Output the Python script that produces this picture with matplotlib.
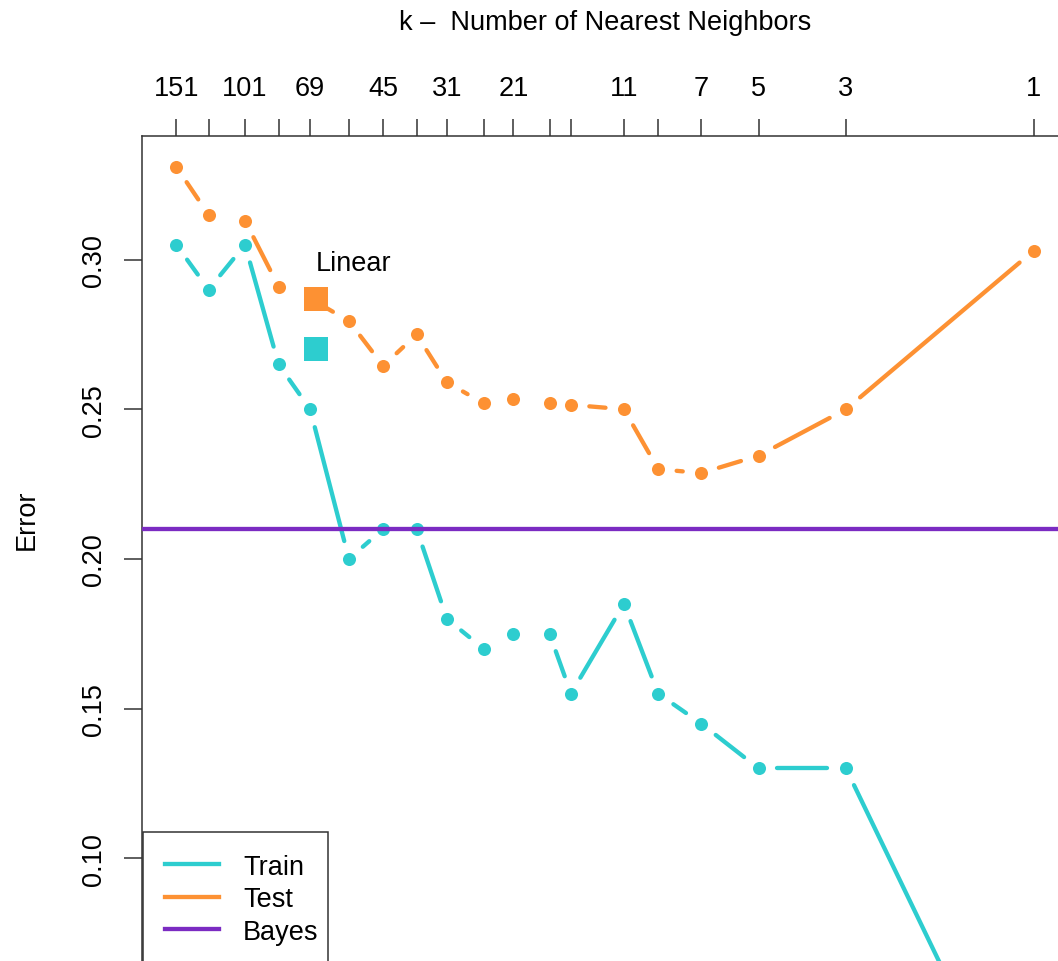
import numpy as np
import matplotlib.pyplot as plt

plt.rcParams['font.family'] = ['Liberation Sans', 'DejaVu Sans']

# k-NN on the mixture data: N = 200 training points
N = 200
k_values = [151, 125, 101, 83, 69, 55, 45, 37, 31, 25, 21, 17, 15, 11, 9, 7, 5, 3, 1]
train_err = [0.305, 0.290, 0.305, 0.265, 0.250, 0.200, 0.210, 0.210, 0.180, 0.170,
             0.175, 0.175, 0.155, 0.185, 0.155, 0.145, 0.130, 0.130, 0.000]
test_err = [0.331, 0.315, 0.313, 0.291, 0.287, 0.2795, 0.2645, 0.275, 0.259, 0.252,
            0.2535, 0.252, 0.2515, 0.250, 0.230, 0.2287, 0.2345, 0.250, 0.303]
k_labels = [151, 101, 69, 45, 31, 21, 11, 7, 5, 3, 1]
y_ticks = [0.10, 0.15, 0.20, 0.25, 0.30]

linear_df = 3
linear_train = 0.270
linear_test = 0.287
bayes_err = 0.210

col_train = '#2dcdcf'
col_test = '#fd9133'
col_bayes = '#7b2bc2'

W, H = 1058, 962
fig = plt.figure(figsize=(W / 100, H / 100), dpi=100)

# axes run off the right and bottom edges of the figure
ax = fig.add_axes([142 / W, 1 - 1199 / H, (1068 - 142) / W, (1199 - 137) / H])

dof = np.log(N / np.array(k_values, dtype=float))
span = dof.max() - dof.min()
ax.set_xlim(dof.min() - 0.04 * span, dof.max() + 0.04 * span)
ax.set_ylim(-0.0135, 0.3413)


def gapped_line(ax, x, y, gap, **kw):
    # type="b" style: each segment stops short of the points by `gap` pixels
    pts = ax.transData.transform(np.column_stack([x, y]))
    inv = ax.transData.inverted()
    for p0, p1 in zip(pts[:-1], pts[1:]):
        d = p1 - p0
        length = np.hypot(*d)
        if length <= 2 * gap:
            continue
        u = d / length
        seg = inv.transform(np.vstack([p0 + u * gap, p1 - u * gap]))
        ax.plot(seg[:, 0], seg[:, 1], solid_capstyle='round', **kw)


gapped_line(ax, dof, train_err, 18.5, color=col_train, lw=3.1)
gapped_line(ax, dof, test_err, 18.5, color=col_test, lw=3.1)
ax.plot(dof, train_err, 'o', color=col_train, ms=9.4, mew=0)
ax.plot(dof, test_err, 'o', color=col_test, ms=9.4, mew=0)

lx = np.log(linear_df)
ax.plot([lx], [linear_test], 's', color=col_test, ms=17, mew=0, zorder=5)
ax.plot([lx], [linear_train], 's', color=col_train, ms=17, mew=0, zorder=5)
ax.text(lx, 0.2988, 'Linear', ha='left', va='center', fontsize=19.5)

ax.axhline(bayes_err, color=col_bayes, lw=3.1, zorder=6)

# legend handles
ax.plot([], [], color=col_train, lw=3.1, label='Train')
ax.plot([], [], color=col_test, lw=3.1, label='Test')
ax.plot([], [], color=col_bayes, lw=3.1, label='Bayes')
leg = fig.legend(loc='upper left', bbox_to_anchor=(143 / W, 1 - 833 / H),
                 fontsize=19.5, frameon=False, borderaxespad=0,
                 borderpad=0.8, labelspacing=0.24, handlelength=2.0,
                 handletextpad=0.9)
# legend box drawn by hand; its lower edge falls below the figure
box = plt.Rectangle((143 / W, -20 / H), (328 - 143) / W, (962 - 833 + 20) / H,
                    transform=fig.transFigure, fill=False,
                    edgecolor='#333333', lw=1.1, zorder=7)
fig.add_artist(box)

for side in ['right', 'bottom']:
    ax.spines[side].set_visible(False)
for side in ['top', 'left']:
    ax.spines[side].set_color('#333333')
    ax.spines[side].set_linewidth(1.1)

ax.xaxis.tick_top()
ax.set_xticks(dof)
ax.set_xticklabels([str(k) if k in k_labels else '' for k in k_values])
ax.tick_params(axis='x', length=12.5, width=1.1, color='#333333', pad=12.5,
               labelsize=19.5)

ax.set_yticks(y_ticks)
ax.set_yticklabels([f'{v:.2f}' for v in y_ticks], rotation=90, va='center')
ax.tick_params(axis='y', length=13, width=1.1, color='#333333', pad=12,
               labelsize=19.5)

fig.text(605 / W, 1 - 23 / H, 'k \u2013  Number of Nearest Neighbors',
         ha='center', va='center', fontsize=19.5)
fig.text(27 / W, 1 - 520 / H, 'Error', ha='center', va='center',
         rotation=90, fontsize=19.5)

fig.savefig('out.png', dpi=100)
